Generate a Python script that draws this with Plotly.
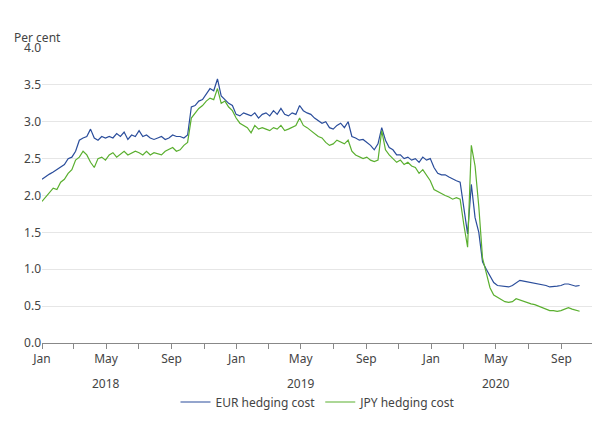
import plotly.graph_objects as go
import pandas as pd

# weekly readings, Mondays from 2018-01-01
eur = [2.22, 2.26, 2.29, 2.32, 2.35,
       2.38, 2.42, 2.50, 2.52,
       2.60, 2.75, 2.78, 2.80,
       2.90, 2.78, 2.75, 2.80, 2.78,
       2.80, 2.78, 2.84, 2.80,
       2.86, 2.76, 2.82, 2.80,
       2.88, 2.80, 2.82, 2.78, 2.76,
       2.78, 2.80, 2.76, 2.78,
       2.82, 2.80, 2.80, 2.78,
       2.82, 3.20, 3.22, 3.28, 3.30,
       3.38, 3.45, 3.42, 3.58,
       3.35, 3.30, 3.25, 3.22, 3.10,
       # 2019
       3.08, 3.12, 3.10, 3.08,
       3.12, 3.05, 3.10, 3.12,
       3.08, 3.15, 3.10, 3.18,
       3.10, 3.08, 3.12, 3.10, 3.22,
       3.15, 3.12, 3.10, 3.05,
       3.02, 2.98, 3.00, 2.92,
       2.90, 2.95, 2.98, 2.92, 3.00,
       2.80, 2.78, 2.75, 2.76,
       2.72, 2.68, 2.62, 2.70, 2.92,
       2.75, 2.65, 2.62, 2.55,
       2.55, 2.50, 2.52, 2.48,
       2.50, 2.45, 2.52, 2.48, 2.50,
       # 2020
       2.38, 2.30, 2.28, 2.28,
       2.25, 2.22, 2.20, 2.18,
       1.80, 1.48, 2.15, 1.70, 1.50,
       1.10, 1.00, 0.90, 0.82,
       0.78, 0.77, 0.76, 0.76,
       0.78, 0.82, 0.85, 0.84, 0.83,
       0.82, 0.82, 0.80, 0.79,
       0.78, 0.76, 0.76, 0.77, 0.78,
       0.80, 0.80, 0.78, 0.77,
       0.78]

jpy = [1.92, 1.98, 2.05, 2.10, 2.08,
       2.18, 2.22, 2.30, 2.35,
       2.48, 2.52, 2.60, 2.55,
       2.45, 2.38, 2.50, 2.52, 2.48,
       2.55, 2.58, 2.52, 2.56,
       2.60, 2.55, 2.58, 2.60,
       2.58, 2.55, 2.60, 2.55, 2.58,
       2.56, 2.55, 2.60, 2.62,
       2.65, 2.60, 2.62, 2.68,
       2.72, 3.05, 3.12, 3.18, 3.22,
       3.28, 3.32, 3.30, 3.45,
       3.25, 3.28, 3.20, 3.15, 3.05,
       # 2019
       2.98, 2.95, 2.92, 2.85,
       2.95, 2.90, 2.92, 2.90,
       2.88, 2.92, 2.90, 2.95,
       2.88, 2.90, 2.92, 2.95, 3.05,
       2.95, 2.92, 2.88, 2.85,
       2.80, 2.78, 2.72, 2.68,
       2.70, 2.75, 2.72, 2.70, 2.75,
       2.60, 2.55, 2.52, 2.50,
       2.52, 2.48, 2.46, 2.48, 2.88,
       2.62, 2.55, 2.50, 2.45,
       2.48, 2.42, 2.45, 2.40,
       2.38, 2.30, 2.35, 2.28, 2.20,
       # 2020
       2.08, 2.05, 2.02, 2.00,
       1.98, 1.95, 1.97, 1.95,
       1.60, 1.30, 2.68, 2.40, 1.85,
       1.15, 0.95, 0.75, 0.65,
       0.62, 0.58, 0.56, 0.55,
       0.56, 0.60, 0.58, 0.56, 0.55,
       0.53, 0.52, 0.50, 0.48,
       0.46, 0.44, 0.44, 0.43, 0.44,
       0.46, 0.48, 0.46, 0.45,
       0.43]

dates = pd.date_range("2018-01-01", periods=len(eur), freq="W-MON")

fig = go.Figure()
fig.add_scatter(x=dates, y=eur, mode="lines", name="EUR hedging cost",
                line=dict(color="#2a4d9b", width=1.2))
fig.add_scatter(x=dates[:len(jpy)], y=jpy, mode="lines", name="JPY hedging cost",
                line=dict(color="#5aaf2f", width=1.2))

tick_dates = pd.date_range("2018-01-01", "2020-09-01", freq="2MS")
tick_text = [d.strftime("%b") if d.month in (1, 5, 9) else "" for d in tick_dates]

fig.update_xaxes(range=["2018-01-01", "2020-11-01"], tickvals=tick_dates, ticktext=tick_text,
                 ticks="outside", ticklen=5, tickcolor="#888", showgrid=False,
                 showline=True, linecolor="#888", tickfont=dict(size=12, color="#444"))
fig.update_yaxes(range=[0, 4.0], dtick=0.5, tickformat=".1f", gridcolor="#e6e6e6",
                 zeroline=False, ticks="", tickfont=dict(size=12, color="#444"))

for yr in ["2018", "2019", "2020"]:
    fig.add_annotation(x=yr + "-05-01", y=-0.1, xref="x", yref="paper", text=yr,
                       yanchor="top", showarrow=False, font=dict(size=12, color="#444"))
fig.add_annotation(x=0, y=1.07, xref="paper", yref="paper", text="Per cent", xanchor="left",
                   xshift=-30, showarrow=False, font=dict(size=12, color="#444"))

fig.update_layout(width=600, height=421, plot_bgcolor="white", paper_bgcolor="white",
                  font=dict(family="Noto Sans", color="#444"),
                  margin=dict(l=34, r=14, t=40, b=76),
                  legend=dict(orientation="h", x=0.5, xanchor="center", y=-0.2, yanchor="middle",
                              font=dict(size=12)))
fig.write_html("out.html")
